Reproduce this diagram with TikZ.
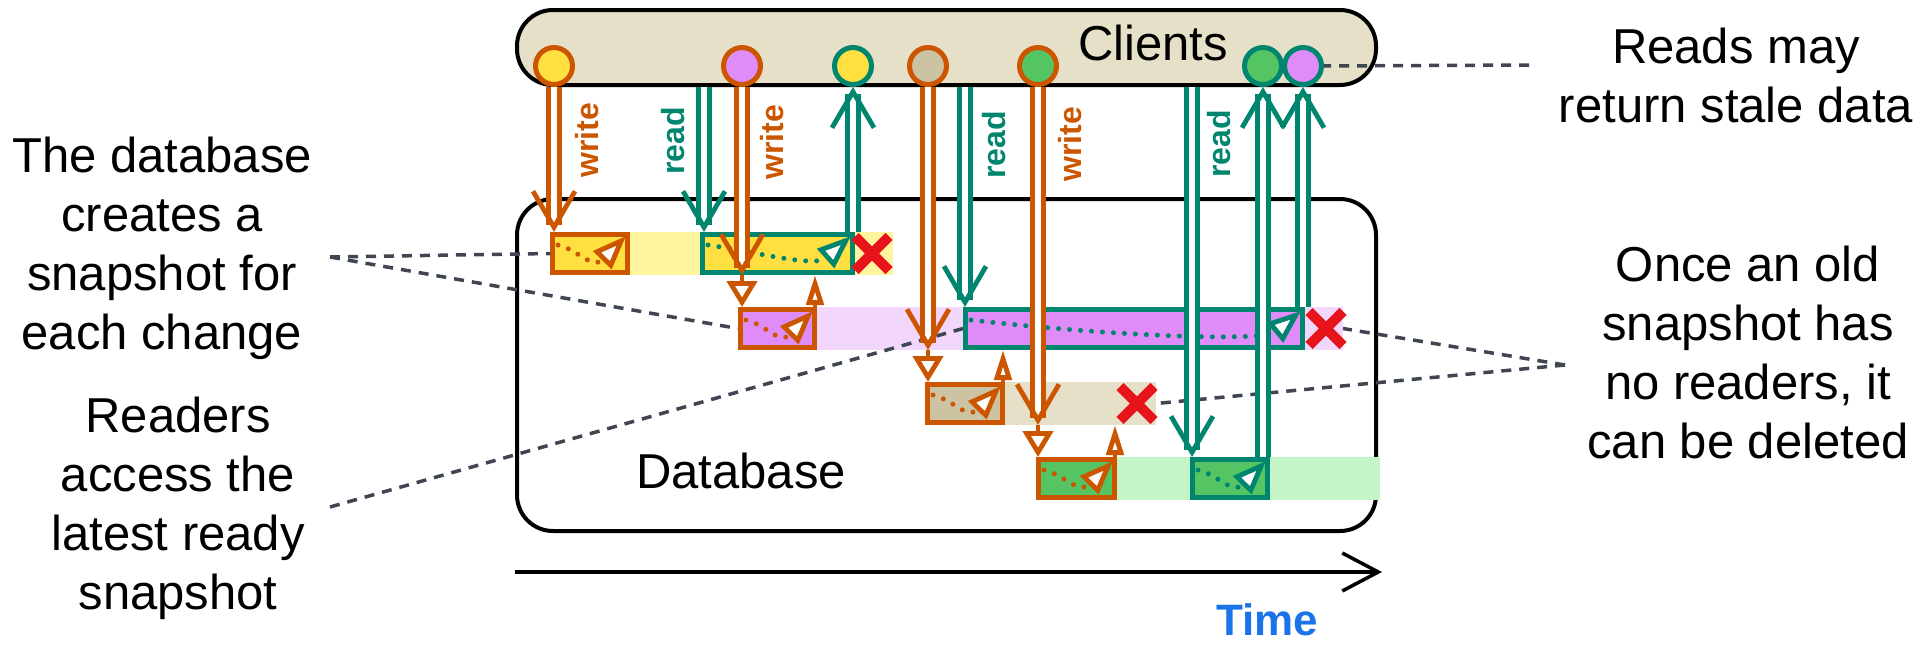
\documentclass[tikz,border=0pt]{standalone}
\usepackage{fontspec}
\setmainfont{Liberation Sans}
\usetikzlibrary{arrows.meta,positioning,shapes.misc}
\definecolor{wcol}{HTML}{CC5500}
\definecolor{rcol}{HTML}{00856F}
\definecolor{ylw}{HTML}{FFE040}
\definecolor{ylwlt}{HTML}{FFF59F}
\definecolor{pur}{HTML}{E08CF8}
\definecolor{purlt}{HTML}{F3D6FB}
\definecolor{tanc}{HTML}{CCC3A3}
\definecolor{tanlt}{HTML}{E6E0C8}
\definecolor{grn}{HTML}{55C462}
\definecolor{grnlt}{HTML}{C4F5C8}
\definecolor{xred}{HTML}{E8141B}
\definecolor{notec}{HTML}{3F4652}
\definecolor{timeblue}{HTML}{1A73E8}

\begin{document}
\begin{tikzpicture}[x=0.5pt,y=-0.5pt,
  txt/.style={font=\fontsize{24.5pt}{29.5pt}\selectfont,align=center,inner sep=0pt},
  frame/.style={draw,line width=2pt,rounded corners=18pt,minimum width=429.5pt},
  lane/.style={fill=#1,inner sep=0pt,outer sep=0pt,minimum height=21.5pt},
  snap/.style 2 args={draw=#1,fill=#2,line width=2.5pt,inner sep=0pt,
              minimum height=19pt},
  client/.style 2 args={circle,draw=#1,fill=#2,line width=2.5pt,
              minimum size=18.5pt,inner sep=0pt},
  dbl/.style={draw=#1,line width=2.4pt,double=white,double distance=3.2pt,
              -{Straight Barb[length=18pt,width=21pt,line width=2.4pt]}},
  wrarr/.style={dbl=wcol},
  rdarr/.style={dbl=rcol},
  cparr/.style={draw=wcol,line width=2.4pt,
              -{Triangle[fill=white,length=13pt,width=15pt]}},
  okarr/.style={draw=wcol,line width=2.4pt,
              -{Triangle[fill=white,length=15pt,width=8.5pt]}},
  prog/.style={draw=#1,line width=2.5pt,line cap=round,dash pattern=on 0pt off 5.5pt,
              -{Triangle[fill=white,length=17pt,width=12.5pt,line width=2.4pt]}},
  lbl/.style={font=\bfseries\fontsize{16pt}{19pt}\selectfont,rotate=90,inner sep=0pt},
  xmark/.style={cross out,draw=xred,line width=5pt,minimum size=12pt,inner sep=0pt},
  note/.style={draw=notec,line width=1.75pt,dash pattern=on 5pt off 4pt}]

  \useasboundingbox (0,0) rectangle (1926,653);

  % clients and database
  \node[frame,fill=tanlt,minimum height=37.5pt] (clients) at (946.5,47.5) {};
  \node[txt] (cltxt) at (1153,42.5) {Clients};
  \node[frame,minimum height=166pt] (db) at (946.5,365) {};
  \node[txt] (dbtxt) at (741,470.5) {Database};

  % snapshot lanes
  \node[lane=ylwlt,minimum width=171.5pt] (band1) at (721.5,253.5) {};
  \node[lane=purlt,minimum width=302.5pt] (band2) at (1040.5,328.5) {};
  \node[lane=tanlt,minimum width=115.5pt] (band3) at (1040.5,403.5) {};
  \node[lane=grnlt,minimum width=172pt] (band4) at (1208,478.5) {};

  \node[snap={wcol}{ylw},minimum width=37.5pt] (p1) at (590,253.5) {};
  \node[snap={rcol}{ylw},minimum width=75pt] (t1) at (777.5,253.5) {};
  \node[snap={wcol}{pur},minimum width=37pt] (p2) at (777.5,328.5) {};
  \node[snap={rcol}{pur},minimum width=168.5pt] (t2) at (1134,328.5) {};
  \node[snap={wcol}{tanc},minimum width=37.5pt] (p3) at (965,403.5) {};
  \node[snap={wcol}{grn},minimum width=38pt] (p4) at (1076.5,478.5) {};
  \node[snap={rcol}{grn},minimum width=37.5pt] (t4) at (1230,478.5) {};

  \foreach \bx/\cl/\oa/\od in {p1/wcol/-20/10pt,t1/rcol/-12/25pt,p2/wcol/-20/10pt,
                               t2/rcol/-8/75pt,p3/wcol/-20/10pt,p4/wcol/-20/10pt,
                               t4/rcol/-20/10pt}
    \draw[prog=\cl] ([shift={(8,13)}]\bx.north west)
      to[out=\oa,in=218,relative,out distance=\od,in distance=24pt]
      ([shift={(-4,4)}]\bx.north east);

  \node[xmark] (x1) at (872,253.5) {};
  \node[xmark] (x2) at (1326,328.5) {};
  \node[xmark] (x3) at (1137,403.5) {};

  % clients
  \node[client={wcol}{ylw}] (c1) at (554,66) {};
  \node[client={wcol}{pur}] (c2) at (742,66) {};
  \node[client={rcol}{ylw}] (c3) at (853,66) {};
  \node[client={wcol}{tanc}] (c4) at (928,66) {};
  \node[client={wcol}{grn}] (c5) at (1038,66) {};
  \node[client={rcol}{grn}] (c6) at (1263,66) {};
  \node[client={rcol}{pur}] (c7) at (1303,66) {};

  % side notes
  \node[txt] (snapnote) at (162,248.5) {The database\\creates a\\snapshot for\\each change};
  \node[txt] (readnote) at (178,508) {Readers\\access the\\latest ready\\snapshot};
  \node[txt] (stalenote) at (1736,75) {Reads may\\return stale data};
  \node[txt] (delnote) at (1748,352.5) {Once an old\\snapshot has\\no readers, it\\can be deleted};
  \coordinate (n1) at (330,257);
  \coordinate (n2) at (330,507);
  \coordinate (n3) at (1565,365);
  \coordinate (n4) at (1529,65);

  \draw[note] (n1) -- (p1.west);
  \draw[note] (n1) -- (p2.west);
  \draw[note] (n2) -- (t2.west);
  \draw[note] (n3) -- (band2.east);
  \draw[note] (n3) -- (band3.east);
  \draw[note] (n4) -- (c7.east);

  % reads and writes
  \coordinate (r1) at ([xshift=2pt]t1.north west);
  \coordinate (r2) at ([xshift=1pt]t2.north west);
  \coordinate (r3) at ([xshift=1pt]t4.north west);

  \draw[wrarr] (c1.south) -- (c1 |- p1.north);
  \draw[rdarr] (clients.south -| r1) -- (r1);
  \draw[wrarr] (c2.south) -- (c2 |- band1.south);
  \draw[rdarr] (c3 |- t1.north) -- (c3.south);
  \draw[wrarr] (c4.south) -- (c4 |- band2.south);
  \draw[rdarr] (clients.south -| r2) -- (r2);
  \draw[wrarr] (c5.south) -- (c5 |- band3.south);
  \draw[rdarr] (clients.south -| r3) -- (r3);
  \draw[rdarr] (c6 |- t4.north) -- (c6.south);
  \draw[rdarr] (c7 |- t2.north) -- (c7.south);

  \draw[cparr] (c2 |- band1.south) -- (c2 |- p2.north);
  \draw[cparr] (c4 |- band2.south) -- (c4 |- p3.north);
  \draw[cparr] (c5 |- band3.south) -- (c5 |- p4.north);
  \draw[okarr] ([xshift=-1pt]p2.north east) -- ([xshift=-1pt]p2.north east |- band1.south);
  \draw[okarr] ([xshift=-1pt]p3.north east) -- ([xshift=-1pt]p3.north east |- band2.south);
  \draw[okarr] ([xshift=-1pt]p4.north east) -- ([xshift=-1pt]p4.north east |- band3.south);

  \node[lbl,text=wcol] (lw1) at (587,140) {write};
  \node[lbl,text=rcol] (lr1) at (673,141) {read};
  \node[lbl,text=wcol] (lw2) at (772,142) {write};
  \node[lbl,text=rcol] (lr2) at (994,145) {read};
  \node[lbl,text=wcol] (lw3) at (1070,144) {write};
  \node[lbl,text=rcol] (lr3) at (1219,144) {read};

  % time axis
  \coordinate (tstart) at (515,572);
  \coordinate (tend) at (1382,572);
  \draw[line width=1.75pt,-{Straight Barb[length=18pt,width=19pt]}] (tstart) -- (tend);
  \node[font=\bfseries\fontsize{22pt}{26pt}\selectfont,text=timeblue] (time) at (1267,620) {Time};
\end{tikzpicture}
\end{document}
